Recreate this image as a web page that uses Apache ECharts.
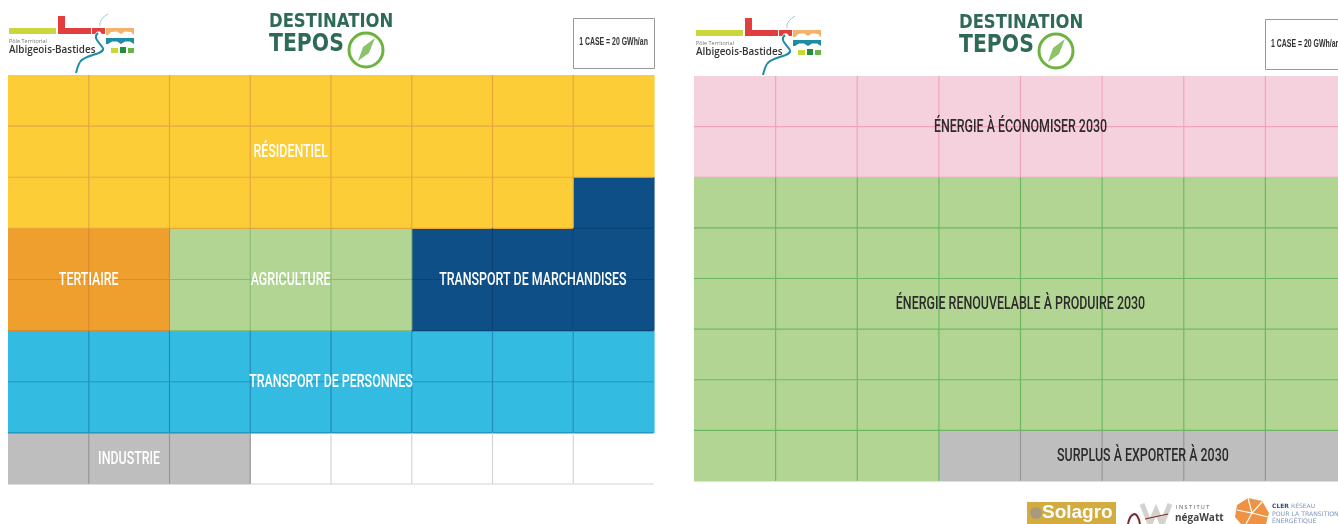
<!DOCTYPE html>
<html><head><meta charset="utf-8">
<style>html,body{margin:0;padding:0;background:#fff;overflow:hidden}#c{width:1338px;height:524px;filter:blur(0.5px)}</style>
<script src="https://cdn.jsdelivr.net/npm/echarts@6/dist/echarts.min.js"></script>
</head><body><div id="c"></div>
<script>
const columns = 8;
const rows = 8;
const unitLabel = '1 CASE = 20 GWh/an';
// cell codes, row by row from the top
const leftCells = [
  ['R','R','R','R','R','R','R','R'],
  ['R','R','R','R','R','R','R','R'],
  ['R','R','R','R','R','R','R','M'],
  ['T','T','A','A','A','M','M','M'],
  ['T','T','A','A','A','M','M','M'],
  ['P','P','P','P','P','P','P','P'],
  ['P','P','P','P','P','P','P','P'],
  ['I','I','I','W','W','W','W','W']
];
const rightCells = [
  ['E','E','E','E','E','E','E','E'],
  ['E','E','E','E','E','E','E','E'],
  ['G','G','G','G','G','G','G','G'],
  ['G','G','G','G','G','G','G','G'],
  ['G','G','G','G','G','G','G','G'],
  ['G','G','G','G','G','G','G','G'],
  ['G','G','G','G','G','G','G','G'],
  ['G','G','G','S','S','S','S','S']
];
const fills = {R:'#FDCD38',M:'#0F4F87',T:'#EF9F2E',A:'#B2D594',P:'#33BBE2',I:'#BEBEBE',W:'#FFFFFF',E:'#F5D0DD',G:'#B2D594',S:'#BEBEBE'};
const strokes = {R:'#E6A63A',M:'#0B4274',T:'#DB8A2A',A:'#86BE74',P:'#1F8DB8',I:'#959595',W:'#D4D4D4',E:'#EFA5BF',G:'#6CB860',S:'#959595'};
// label: centre column, centre row, text
const leftLabels = [[3.5,1.5,'RÉSIDENTIEL'],[1,4,'TERTIAIRE'],[3.5,4,'AGRICULTURE'],[6.5,4,'TRANSPORT DE MARCHANDISES'],[4,6,'TRANSPORT DE PERSONNES'],[1.5,7.5,'INDUSTRIE']];
const rightLabels = [[4,1,'ÉNERGIE À ÉCONOMISER 2030'],[4,4.5,'ÉNERGIE RENOUVELABLE À PRODUIRE 2030'],[5.5,7.5,'SURPLUS À EXPORTER À 2030']];

const flat = m => m.flatMap((r,y)=>r.map((k,x)=>[x,y,k]));
const cellSeries = (data,i) => ({
  type:'custom',xAxisIndex:i,yAxisIndex:i,data,clip:false,silent:true,
  encode:{x:0,y:1},
  renderItem:(p,api)=>{
    const x=api.value(0),y=api.value(1),k=data[p.dataIndex][2];
    const a=api.coord([x,y]),b=api.coord([x+1,y+1]);
    return {type:'group',children:[
      {type:'rect',shape:{x:a[0],y:a[1],width:b[0]-a[0],height:b[1]-a[1]},style:{fill:fills[k],stroke:null}},
      {type:'polyline',z2:2,shape:{points:[[a[0],b[1]],[b[0],b[1]]]},style:{stroke:(y===7&&k!=='W')?fills[k]:strokes[k],lineWidth:1.2,fill:null}},
      {type:'polyline',z2:2,shape:{points:[[b[0],a[1]],[b[0],b[1]]]},style:{stroke:x===7?fills[k]:strokes[k],lineWidth:1.2,fill:null}}
    ]};
  }
});
const labelSeries = (data,i,color) => ({
  type:'custom',xAxisIndex:i,yAxisIndex:i,data,clip:false,silent:true,z:5,
  encode:{x:0,y:1},
  renderItem:(p,api)=>{
    const a=api.coord([api.value(0),api.value(1)]);
    return {type:'text',x:a[0],y:a[1]+1,scaleX:0.69,style:{text:data[p.dataIndex][2],fill:color,font:'500 18px "Roboto"',align:'center',verticalAlign:'middle'}};
  }
});
const ax = (max,inv,i)=>({type:'value',gridIndex:i,min:0,max,inverse:inv,show:false});

// decorative logos and header
const curve=(p,c,w)=>({type:'bezierCurve',shape:{x1:p[0],y1:p[1],cpx1:p[2],cpy1:p[3],cpx2:p[4],cpy2:p[5],x2:p[6],y2:p[7]},style:{stroke:c,lineWidth:w,fill:null}});
const logo=(dx,dy)=>{
  const P=a=>a.map(q=>[q[0]+dx,q[1]+dy]);
  const C=(a,c,w)=>curve(a.map((v,i)=>v+(i%2?dy:dx)),c,w);
  return [
  {type:'rect',shape:{x:9+dx,y:28+dy,width:47,height:6},style:{fill:'#C9D63C'}},
  {type:'polygon',shape:{points:P([[58,16],[65,16],[65,28],[91,28],[91,34],[58,34]])},style:{fill:'#E23E3E'}},
  {type:'polygon',shape:{points:P([[92,34],[92,28],[105,28],[105,34],[102,34],[100,31.5],[97,31.5],[95,34]])},style:{fill:'#E23E3E'}},
  {type:'polygon',shape:{points:P([[106,35],[106,28],[134,28],[134,35],[131,32],[125,31.5],[121,34],[117,31.5],[111,32],[108,35]])},style:{fill:'#F3B36B'}},
  {type:'polygon',shape:{points:P([[106,44],[106,38],[134,38],[134,44],[130,41.5],[125,41.5],[121,44],[117,41.5],[112,41.5],[108,44]])},style:{fill:'#1E8CA5'}},
  {type:'rect',shape:{x:111+dx,y:48+dy,width:7,height:5},style:{fill:'#C9D63C'}},
  {type:'rect',shape:{x:120+dx,y:47+dy,width:6,height:6},style:{fill:'#1F8F3F'}},
  {type:'rect',shape:{x:128+dx,y:48+dy,width:6,height:5},style:{fill:'#6DB33F'}},
  C([108,14,103,17,99,21,100,26],'#9CC9DA',1),
  C([98,33,92,38,100,43,103,48],'#1E8CA5',2),
  C([103,48,105,55,85,54,80,62],'#1E8CA5',2),
  C([80,62,78,65,77,69,76,73],'#1E8CA5',2),
  {type:'text',x:9+dx,y:38.5+dy,style:{text:'Pôle Territorial',fill:'#777',font:'5.5px "Open Sans"'}},
  {type:'text',x:9+dx,y:45.5+dy,style:{text:'Albigeois-Bastides',fill:'#333',font:'600 9.9px "Open Sans"'}}
];};
const title=(dx,dy)=>[
  {type:'text',x:269+dx,y:13+dy,scaleX:0.865,style:{text:'DESTINATION',fill:'#2E6A54',font:'bold 19px "DejaVu Sans"'}},
  {type:'text',x:269+dx,y:32.5+dy,scaleX:0.85,style:{text:'TEPOS',fill:'#2E6A54',font:'bold 24px "DejaVu Sans"'}},
  {type:'circle',shape:{cx:366+dx,cy:50+dy,r:17},style:{fill:'#fff',stroke:'#6DB33F',lineWidth:3}},
  {type:'polygon',shape:{points:[[375+dx,38+dy],[369+dx,53+dy],[358+dx,61+dy],[363+dx,47+dy]]},style:{fill:'#8CC36A'}}
];
const graphic=[
  ...logo(0,0),...logo(687,2),...title(0,0),...title(690,1),
  {type:'rect',shape:{x:573.5,y:18.5,width:81,height:50},style:{fill:'#fff',stroke:'#999',lineWidth:1}},
  {type:'text',x:613.5,y:42,scaleX:0.66,style:{text:unitLabel,fill:'#333',font:'bold 10.5px "Liberation Sans"',align:'center',verticalAlign:'middle'}},
  {type:'rect',shape:{x:1265.5,y:19.5,width:81,height:50},style:{fill:'#fff',stroke:'#999',lineWidth:1}},
  {type:'text',x:1271,y:44,scaleX:0.66,style:{text:unitLabel,fill:'#333',font:'bold 10.5px "Liberation Sans"',verticalAlign:'middle'}},
  {type:'rect',shape:{x:1027,y:502,width:89,height:22},style:{fill:'#D3AB3E'}},
  {type:'circle',shape:{cx:1036,cy:513,r:6},style:{fill:'#A89A7A'}},
  {type:'text',x:1042,y:503,style:{text:'Solagro',fill:'#fff',font:'bold 19px "Liberation Sans"'}},
  curve([1128,524,1130,514,1137,508,1140,524],'#7A2A2E',2),
  {type:'polyline',shape:{points:[[1142,504],[1150,524],[1156,510],[1162,524],[1170,504]]},style:{stroke:'#D5D2CE',lineWidth:5,fill:null}},
  {type:'polyline',shape:{points:[[1145,519],[1168,514]]},style:{stroke:'#7A2A2E',lineWidth:1.2}},
  {type:'text',x:1176,y:504,style:{text:'I N S T I T U T',fill:'#555',font:'5.5px "Open Sans"'}},
  {type:'text',x:1175,y:513,style:{text:'négaWatt',fill:'#444',font:'bold 10px "Open Sans"'}},
  {type:'polygon',shape:{points:[[1248,498],[1262,501],[1269,513],[1266,524],[1241,524],[1235,517],[1237,505]]},style:{fill:'#EE9345'}},
  {type:'polyline',shape:{points:[[1237,510],[1252,513],[1262,502]]},style:{stroke:'#fff',lineWidth:1.2}},
  {type:'polyline',shape:{points:[[1248,498],[1252,513],[1246,524]]},style:{stroke:'#fff',lineWidth:1.2}},
  {type:'polyline',shape:{points:[[1252,513],[1268,517]]},style:{stroke:'#fff',lineWidth:1.2}},
  {type:'text',x:1272,y:503,style:{text:'CLER',fill:'#2A4E8C',font:'bold 6px "DejaVu Sans"'}},
  {type:'text',x:1291,y:503,style:{text:'RÉSEAU',fill:'#7F96BE',font:'6px "DejaVu Sans"'}},
  {type:'text',x:1272,y:511,style:{text:'POUR LA TRANSITION',fill:'#7F96BE',font:'6.2px "DejaVu Sans"'}},
  {type:'text',x:1272,y:518.5,style:{text:'ÉNERGÉTIQUE',fill:'#7F96BE',font:'6.2px "DejaVu Sans"'}}
];

const chart=echarts.init(document.getElementById('c'),null,{renderer:'canvas'});
chart.setOption({
  animation:false,
  backgroundColor:'#fff',
  grid:[{left:8,top:75,width:646,height:409,outerBoundsMode:'none'},{left:694,top:76,width:653,height:405,outerBoundsMode:'none'}],
  xAxis:[ax(columns,false,0),ax(columns,false,1)],
  yAxis:[ax(rows,true,0),ax(rows,true,1)],
  series:[cellSeries(flat(leftCells),0),cellSeries(flat(rightCells),1),labelSeries(leftLabels,0,'#fff'),labelSeries(rightLabels,1,'#2b2b2b')],
  graphic
});
</script></body></html>
